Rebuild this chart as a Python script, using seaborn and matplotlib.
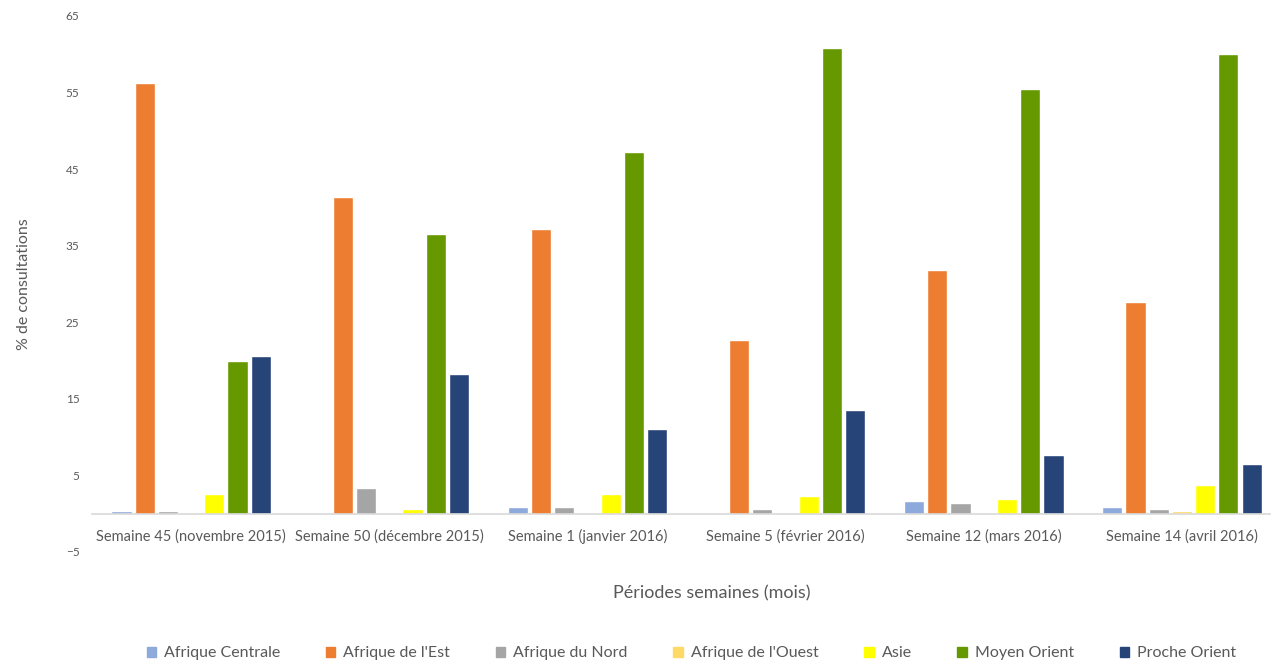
import matplotlib
matplotlib.use("Agg")
import matplotlib.pyplot as plt
import seaborn as sns
import pandas as pd
from matplotlib.patches import Patch

# ---------------------------------------------------------------------------
# Data
# ---------------------------------------------------------------------------
periods = [
    "Semaine 45 (novembre 2015)",
    "Semaine 50 (décembre 2015)",
    "Semaine 1 (janvier 2016)",
    "Semaine 5 (février 2016)",
    "Semaine 12 (mars 2016)",
    "Semaine 14 (avril 2016)",
]
regions = [
    "Afrique Centrale", "Afrique de l'Est", "Afrique du Nord",
    "Afrique de l'Ouest", "Asie", "Moyen Orient", "Proche Orient",
]
afrique_centrale = [0.3, 0.0, 0.9, 0.0, 1.7, 0.9]
afrique_est      = [56.3, 41.3, 37.2, 22.7, 31.8, 27.6]
afrique_nord     = [0.3, 3.3, 0.9, 0.6, 1.4, 0.6]
afrique_ouest    = [0.0, 0.0, 0.0, 0.0, 0.0, 0.4]
asie             = [2.6, 0.65, 2.6, 2.3, 1.9, 3.8]
moyen_orient     = [19.9, 36.5, 47.2, 60.8, 55.5, 60.0]
proche_orient    = [20.6, 18.3, 11.0, 13.6, 7.7, 6.5]

yticks = [-5, 5, 15, 25, 35, 45, 55, 65]
colors = ["#8EA9DB", "#ED7D31", "#A5A5A5", "#FFD966", "#FFFF00", "#669900", "#264478"]

series = [afrique_centrale, afrique_est, afrique_nord, afrique_ouest,
          asie, moyen_orient, proche_orient]
rows = []
for reg, vals in zip(regions, series):
    for per, v in zip(periods, vals):
        rows.append({"period": per, "region": reg, "value": v})
df = pd.DataFrame(rows)

# ---------------------------------------------------------------------------
# Plot
# ---------------------------------------------------------------------------
sns.set_style("white")
plt.rcParams["font.family"] = ["Lato", "DejaVu Sans"]

fig = plt.figure(figsize=(12.71, 6.64), dpi=100)
ax = fig.add_axes([0.0724, 0.1687, 0.9355, 0.8073])

sns.barplot(data=df, x="period", y="value", hue="region",
            order=periods, hue_order=regions, palette=colors,
            width=0.82, gap=0.13, saturation=1, legend=False, ax=ax)

ax.set_ylim(-5, 65)
ax.set_yticks(yticks)
ax.set_xlim(-0.5, len(periods) - 0.5)
for s in ["left", "right", "top"]:
    ax.spines[s].set_visible(False)
ax.spines["bottom"].set_position(("data", 0))
ax.spines["bottom"].set_color("#D9D9D9")
ax.spines["bottom"].set_linewidth(1.2)
ax.tick_params(axis="x", length=0, pad=11, labelsize=10.5, labelcolor="#595959")
ax.tick_params(axis="y", length=0, pad=9, labelsize=8.5, labelcolor="#595959")
ax.set_xlabel("")
ax.set_ylabel("% de consultations", fontsize=11.5, color="#595959", labelpad=25)

fig.text(0.56, 0.107, "Périodes semaines (mois)", ha="center", va="center",
         fontsize=13, color="#595959")

handles = [Patch(color=c, label=r) for c, r in zip(colors, regions)]
fig.legend(handles=handles, loc="center", bbox_to_anchor=(0.544, 0.016),
           ncol=7, frameon=False, fontsize=11.5, handlelength=0.6, handleheight=0.6,
           handletextpad=0.5, columnspacing=2.85, labelcolor="#595959")

fig.savefig("out.png", dpi=100)
